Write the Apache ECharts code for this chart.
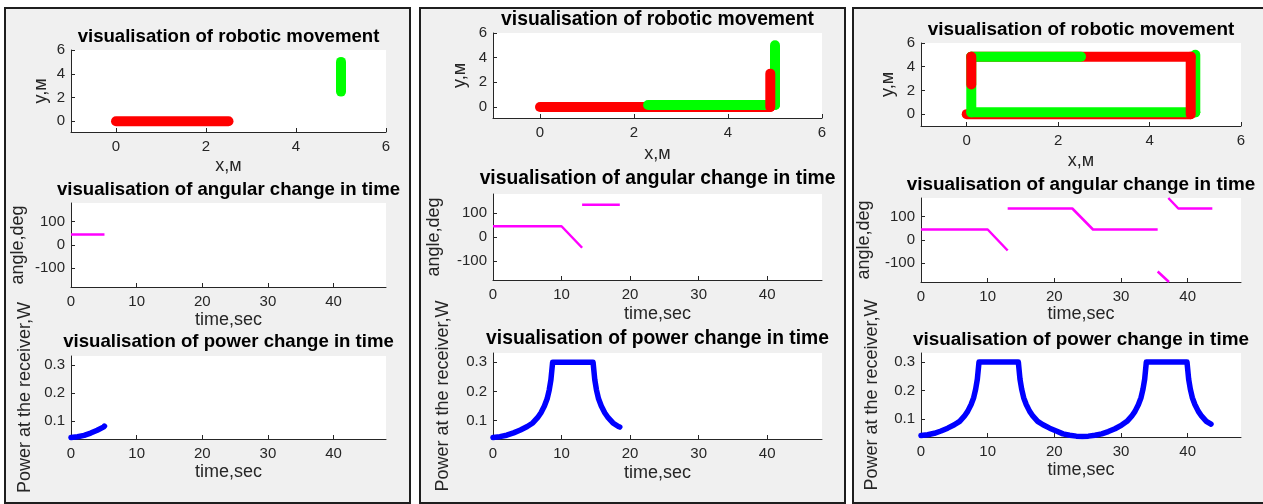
<!DOCTYPE html>
<html><head><meta charset="utf-8">
<script src="https://cdn.jsdelivr.net/npm/echarts@6/dist/echarts.min.js"></script>
<style>
html,body{margin:0;padding:0;background:#fff;overflow:hidden;width:1263px;height:504px;}
.panel{position:absolute;top:7px;height:497px;box-sizing:border-box;border:2px solid #1e1e1e;background:#f0f0f0;}
#c{position:absolute;left:0;top:0;width:1263px;height:504px;}
</style>
</head><body>
<div class="panel" style="left:4px;width:407px;"></div>
<div class="panel" style="left:419px;width:427px;"></div>
<div class="panel" style="left:852px;width:420px;"></div>
<div id="c"></div>
<script>
// ---------- DATA ----------
const titleMove = 'visualisation of robotic movement';
const titleAngle = 'visualisation of angular change in time';
const titlePower = 'visualisation of power change in time';
const nameX = 'x,м', nameY = 'y,м';
const nameTime = 'time,sec', nameAngle = 'angle,deg', namePower = 'Power at the receiver,W';

const moveTicksX = [0, 2, 4, 6];
const moveTicksY = [0, 2, 4, 6];
const timeTicks = [0, 10, 20, 30, 40];
const angleTicks = [-100, 0, 100];
const powerTicks = [0.1, 0.2, 0.3];

// robot paths (x, y in metres)
const redPath1 = [[0, 0], [2.5, 0]];
const greenPath1 = [[5, 5], [5, 2.5]];
const redPath2 = [[0, 0], [4.9, 0], [4.9, 2.7]];
const greenPath2 = [[5, 5], [5, 0.15], [2.3, 0.15]];
const redPath3 = [[0, 0], [4.9, 0], [4.9, 4.85], [0.1, 4.85], [0.1, 2.5]];
const greenPath3 = [[5, 5], [5, 0.15], [0.1, 0.15], [0.1, 4.85], [2.5, 4.85]];

// angle vs time (null = break)
const angleT1 = [0, 5.1];
const angleV1 = [45, 45];
const angleT2 = [0, 10, 13, null, 13, 18.5];
const angleV2 = [45, 45, -45, null, 135, 135];
const angleT3 = [0, 10, 13, null, 13, 22.7, 25.8, 35.5, null, 35.5, 37.2, null, 37.1, 38.6, 43.7];
const angleV3 = [45, 45, -45, null, 135, 135, 45, 45, null, -135, -180, null, 180, 135, 135];

// power vs time
const powerT1 = [0, 1, 2, 3, 4, 5, 5.1];
const powerV1 = [0.042, 0.045, 0.050, 0.058, 0.068, 0.080, 0.083];
const powerT2 = [0, 1, 2, 3, 4, 5, 5.8, 6.5, 7, 7.5, 7.9, 8.2, 8.45, 8.7, 14.6, 14.85, 15.1, 15.4, 15.8, 16.3, 16.8, 17.5, 18.3, 18.5];
const powerV2 = [0.042, 0.045, 0.050, 0.058, 0.068, 0.080, 0.092, 0.110, 0.127, 0.150, 0.175, 0.205, 0.240, 0.300, 0.300, 0.240, 0.205, 0.175, 0.150, 0.127, 0.110, 0.092, 0.080, 0.078];
const powerT3 = [0, 1, 2, 3, 4, 5, 5.8, 6.5, 7, 7.5, 7.9, 8.2, 8.45, 8.7, 14.6, 14.85, 15.1, 15.4, 15.8, 16.3, 16.8, 17.5, 18.3, 19.3, 20.3, 21.3, 22.3, 23.3, 24.2, 25.1, 26.1, 27.1, 28.1, 29.1, 30.1, 30.9, 31.6, 32.1, 32.6, 33.0, 33.3, 33.55, 33.8, 39.9, 40.15, 40.4, 40.7, 41.1, 41.6, 42.1, 42.8, 43.5];
const powerV3 = [0.042, 0.045, 0.050, 0.058, 0.068, 0.080, 0.092, 0.110, 0.127, 0.150, 0.175, 0.205, 0.240, 0.300, 0.300, 0.240, 0.205, 0.175, 0.150, 0.127, 0.110, 0.092, 0.080, 0.068, 0.058, 0.048, 0.043, 0.040, 0.039, 0.040, 0.043, 0.048, 0.056, 0.066, 0.079, 0.092, 0.110, 0.127, 0.150, 0.175, 0.205, 0.240, 0.300, 0.300, 0.240, 0.205, 0.175, 0.150, 0.127, 0.110, 0.092, 0.082];

// ---------- LAYOUT ----------
const FONT = '"Liberation Sans", Arial, Helvetica, sans-serif';
const AX = '#262626';
const panels = [
  { move: [71, 50, 315, 82], angle: [71, 203, 315, 84], power: [71, 356, 315, 83],
    moveYmin: -0.9, gaps: { y: 21, x: 25, ang: 44, pow: 37, t1: 24, t2: 24 },
    titles: [37, 190, 341.5], titleSize: 18.6,
    red: redPath1, green: greenPath1, aT: angleT1, aV: angleV1, pT: powerT1, pV: powerV1 },
  { move: [493, 33, 329, 85], angle: [493, 194, 329, 86], power: [493, 353, 329, 86],
    moveYmin: -0.9, gaps: { y: 24, x: 27, ang: 50, pow: 41, t1: 25, t2: 25 },
    titles: [20, 178.5, 338.5], titleSize: 19.3,
    red: redPath2, green: greenPath2, aT: angleT2, aV: angleV2, pT: powerT2, pV: powerV2 },
  { move: [921, 43, 320, 83], angle: [921, 198, 320, 84], power: [921, 353, 320, 84],
    moveYmin: -1, gaps: { y: 24, x: 26, ang: 48, pow: 40, t1: 23.5, t2: 24 },
    titles: [29.5, 184.5, 339.5], titleSize: 18.9,
    red: redPath3, green: greenPath3, aT: angleT3, aV: angleV3, pT: powerT3, pV: powerV3 }
];

const grids = [], xAxes = [], yAxes = [], series = [], graphics = [];

function axis(gi, min, max, ticks, name, gap, isY) {
  return {
    type: 'value', gridIndex: gi, min: min, max: max,
    name: name, nameLocation: 'middle', nameGap: gap,
    nameTextStyle: { fontFamily: FONT, fontSize: 18, color: AX },
    axisLine: { show: true, onZero: false, lineStyle: { color: AX, width: 1 } },
    axisTick: { show: true, inside: true, length: 4, customValues: ticks, lineStyle: { color: AX, width: 1 } },
    axisLabel: { show: true, customValues: ticks, margin: isY ? 6 : 7, fontFamily: FONT, fontSize: 15, color: AX,
                 showMinLabel: true, showMaxLabel: true, hideOverlap: false, formatter: v => String(v) },
    splitLine: { show: false }, splitArea: { show: false }
  };
}
function addGrid(r) {
  grids.push({ left: r[0], top: r[1], width: r[2], height: r[3], show: true, backgroundColor: '#ffffff', borderWidth: 0, containLabel: false });
  return grids.length - 1;
}
function lineSeries(gi, data, color, width, cap) {
  series.push({ type: 'line', xAxisIndex: gi, yAxisIndex: gi, data: data, symbol: 'none', showSymbol: false,
    connectNulls: false, animation: false, silent: true, clip: cap === 'round' && width >= 10 ? false : true,
    lineStyle: { color: color, width: width, cap: cap, join: 'round' } });
}
function title(text, cx, cy, size) {
  graphics.push({ type: 'text', x: cx, y: cy, silent: true, z: 100,
    style: { text: text, font: 'bold ' + size + 'px ' + FONT, fill: '#000',
             align: 'center', verticalAlign: 'middle', textAlign: 'center', textVerticalAlign: 'middle' } });
}

panels.forEach(p => {
  // movement
  let gi = addGrid(p.move);
  xAxes.push(axis(gi, -1, 6, moveTicksX, nameX, p.gaps.x, false));
  yAxes.push(axis(gi, p.moveYmin, 6, moveTicksY, nameY, p.gaps.y, true));
  const n = Math.max(p.red.length, p.green.length) - 1;
  for (let i = 0; i < n; i++) {
    if (i < p.green.length - 1) lineSeries(gi, [p.green[i], p.green[i + 1]], '#00ff00', 10, 'round');
    if (i < p.red.length - 1) lineSeries(gi, [p.red[i], p.red[i + 1]], '#ff0000', 10, 'round');
  }
  title(titleMove, p.move[0] + p.move[2] / 2, p.titles[0], p.titleSize);

  // angle
  gi = addGrid(p.angle);
  xAxes.push(axis(gi, 0, 48, timeTicks, nameTime, p.gaps.t1, false));
  yAxes.push(axis(gi, -180, 180, angleTicks, nameAngle, p.gaps.ang, true));
  lineSeries(gi, p.aT.map((t, i) => t === null ? [NaN, NaN] : [t, p.aV[i]]), '#ff00ff', 2.5, 'butt');
  title(titleAngle, p.angle[0] + p.angle[2] / 2, p.titles[1], p.titleSize);

  // power
  gi = addGrid(p.power);
  xAxes.push(axis(gi, 0, 48, timeTicks, nameTime, p.gaps.t2, false));
  yAxes.push(axis(gi, 0.037, 0.332, powerTicks, namePower, p.gaps.pow, true));
  lineSeries(gi, p.pT.map((t, i) => [t, p.pV[i]]), '#0000ff', 5.5, 'round');
  title(titlePower, p.power[0] + p.power[2] / 2, p.titles[2], p.titleSize);
});

const chart = echarts.init(document.getElementById('c'), null, { renderer: 'canvas' });
chart.setOption({
  backgroundColor: 'transparent',
  animation: false,
  grid: grids, xAxis: xAxes, yAxis: yAxes, series: series,
  graphic: { elements: graphics }
});
</script>
</body></html>
